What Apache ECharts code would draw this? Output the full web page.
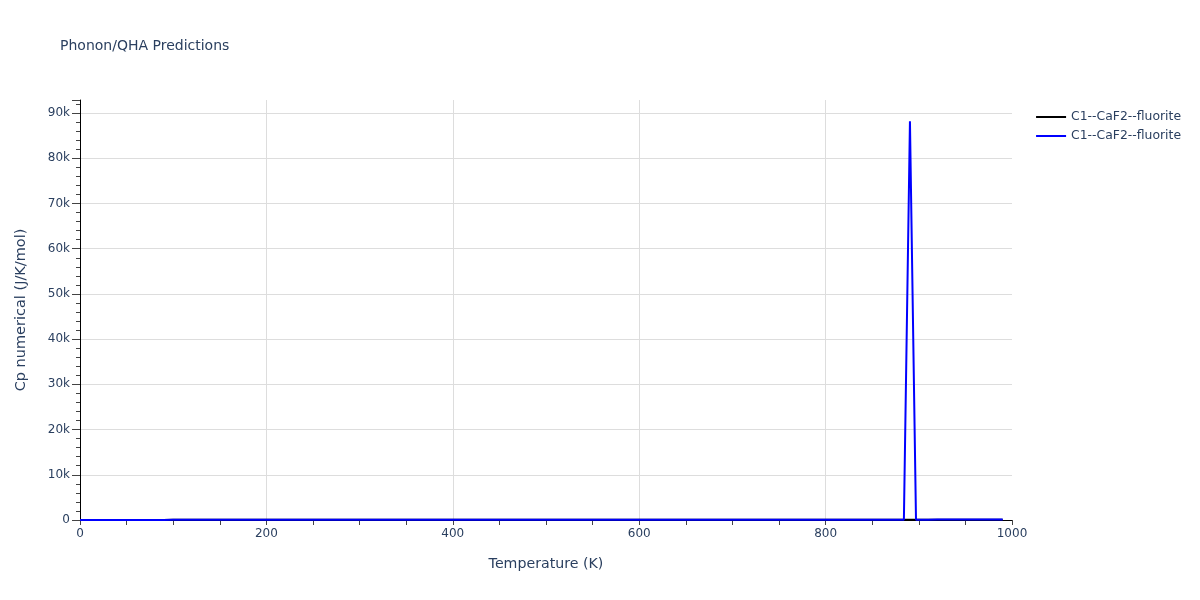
<!DOCTYPE html>
<html>
<head>
<meta charset="utf-8">
<script src="https://cdn.jsdelivr.net/npm/echarts@6/dist/echarts.min.js"></script>
<style>html,body{margin:0;padding:0;background:#fff}#c{width:1200px;height:600px}</style>
</head>
<body>
<div id="c"></div>
<script>
// Temperature grid (K)
const temps = [0,10,20,30,40,50,60,70,80,90,100,110,120,130,140,150,160,170,180,190,200,210,220,230,240,250,260,270,280,290,300,310,320,330,340,350,360,370,380,390,400,410,420,430,440,450,460,470,480,490,500,510,520,530,540,550,560,570,580,590,600,610,620,630,640,650,660,670,680,690,700,710,720,730,740,750,760,770,780,790,800,810,820,830,840,850,860,870,880,890,900,910,920,930,940,950,960,970,980,990];
// Series 1 (black) Cp values (J/K/mol)
const cpBlack = [0,0.1,0.6,2.1,4.6,8.0,12.0,16.4,20.9,25.3,29.5,33.4,37.0,40.3,43.3,46.0,48.5,50.7,52.6,54.4,56.0,57.4,58.7,59.8,60.9,61.9,62.7,63.5,64.2,64.9,65.5,66.0,66.5,67.0,67.4,67.8,68.2,68.5,68.8,69.1,69.4,69.7,69.9,70.2,70.4,70.6,70.8,71.0,71.2,71.4,71.6,71.8,72.0,72.2,72.4,72.6,72.8,73.0,73.2,73.4,73.6,73.8,74.0,74.2,74.4,74.6,74.8,75.0,75.2,75.4,75.6,75.8,76.0,76.2,76.4,76.6,76.8,77.0,77.2,77.4,77.6,77.8,78.0,78.2,78.4,78.6,78.8,79.0,79.2,79.4,79.6,79.8,80.0,80.2,80.4,80.6,80.8,81.0,81.2,81.4];
// Series 2 (blue) temperatures and Cp values, with the spike near 890 K
const tempsBlue = [0,10,20,30,40,50,60,70,80,90,100,110,120,130,140,150,160,170,180,190,200,210,220,230,240,250,260,270,280,290,300,310,320,330,340,350,360,370,380,390,400,410,420,430,440,450,460,470,480,490,500,510,520,530,540,550,560,570,580,590,600,610,620,630,640,650,660,670,680,690,700,710,720,730,740,750,760,770,780,790,800,810,820,830,840,850,860,870,880,884,890.5,897,900,910,920,930,940,950,960,970,980,990];
const cpBlue = [0,0.1,0.6,2.1,4.6,8.0,12.0,16.4,20.9,25.3,29.5,33.4,37.0,40.3,43.3,46.0,48.5,50.7,52.6,54.4,56.0,57.4,58.7,59.8,60.9,61.9,62.7,63.5,64.2,64.9,65.5,66.0,66.5,67.0,67.4,67.8,68.2,68.5,68.8,69.1,69.4,69.7,69.9,70.2,70.4,70.6,70.8,71.0,71.2,71.4,71.6,71.8,72.0,72.2,72.4,72.6,72.8,73.0,73.2,73.4,73.6,73.8,74.0,74.2,74.4,74.6,74.8,75.0,75.2,75.4,75.6,75.8,76.0,76.2,76.4,76.6,76.8,77.0,77.2,77.4,77.6,77.8,78.0,78.2,78.4,78.6,78.8,79.0,79.2,79.4,88200,80,80.2,82,110,130,130,130,130,130,130,130];
const seriesNames = ['C1--CaF2--fluorite','C1--CaF2--fluorite'];

const txt = '#2a3f5f';
const font = '"DejaVu Sans", Verdana, sans-serif';
const chart = echarts.init(document.getElementById('c'));
chart.setOption({
  animation: false,
  backgroundColor: '#fff',
  textStyle: {fontFamily: font},
  title: {
    text: 'Phonon/QHA Predictions', left: 55, top: 34,
    textStyle: {fontSize: 14, fontWeight: 'normal', color: txt, fontFamily: font}
  },
  legend: {
    orient: 'vertical', right: 14, top: 106, itemGap: 7, itemWidth: 30, itemHeight: 2,
    icon: 'rect',
    textStyle: {fontSize: 12.4, color: txt, fontFamily: font},
    data: [{name: 's1', icon: 'rect'}, {name: 's2', icon: 'rect'}],
    formatter: n => n === 's1' ? seriesNames[0] : seriesNames[1]
  },
  grid: {left: 80, right: 188, top: 100, bottom: 80, containLabel: false},
  xAxis: {
    type: 'value', min: 0, max: 1000, interval: 200,
    name: 'Temperature (K)', nameLocation: 'middle', nameGap: 37,
    nameTextStyle: {fontSize: 14.2, color: txt, fontFamily: font},
    axisLine: {show: true, onZero: false, lineStyle: {color: '#000', width: 1}},
    axisTick: {show: true, length: 5, lineStyle: {color: '#444'}},
    minorTick: {show: true, splitNumber: 4, length: 5, lineStyle: {color: '#444'}},
    axisLabel: {fontSize: 12, color: txt, margin: 8, fontFamily: font, formatter: v => String(v)},
    splitLine: {show: true, showMinLine: false, showMaxLine: false, lineStyle: {color: '#ddd', width: 1}}
  },
  yAxis: {
    type: 'value', min: 0, max: 92900, interval: 10000,
    name: 'Cp numerical (J/K/mol)', nameLocation: 'middle', nameGap: 51,
    nameTextStyle: {fontSize: 14.5, color: txt, fontFamily: font},
    axisLine: {show: true, onZero: false, lineStyle: {color: '#000', width: 1}},
    axisTick: {show: true, length: 8, lineStyle: {color: '#444'}},
    minorTick: {show: true, splitNumber: 5, length: 4, lineStyle: {color: '#444'}},
    axisLabel: {fontSize: 12, color: txt, margin: 10, showMaxLabel: false, fontFamily: font,
      formatter: v => v === 0 ? '0' : (v / 1000) + 'k'},
    splitLine: {show: true, showMaxLine: false, lineStyle: {color: '#ddd', width: 1}}
  },
  series: [
    {name: 's1', type: 'line', showSymbol: false, symbol: 'none',
     lineStyle: {color: '#000', width: 2}, itemStyle: {color: '#000'},
     data: temps.map((t, i) => [t, cpBlack[i]])},
    {name: 's2', type: 'line', showSymbol: false, symbol: 'none',
     lineStyle: {color: '#0000ff', width: 2}, itemStyle: {color: '#0000ff'},
     data: tempsBlue.map((t, i) => [t, cpBlue[i]])}
  ]
});
</script>
</body>
</html>
